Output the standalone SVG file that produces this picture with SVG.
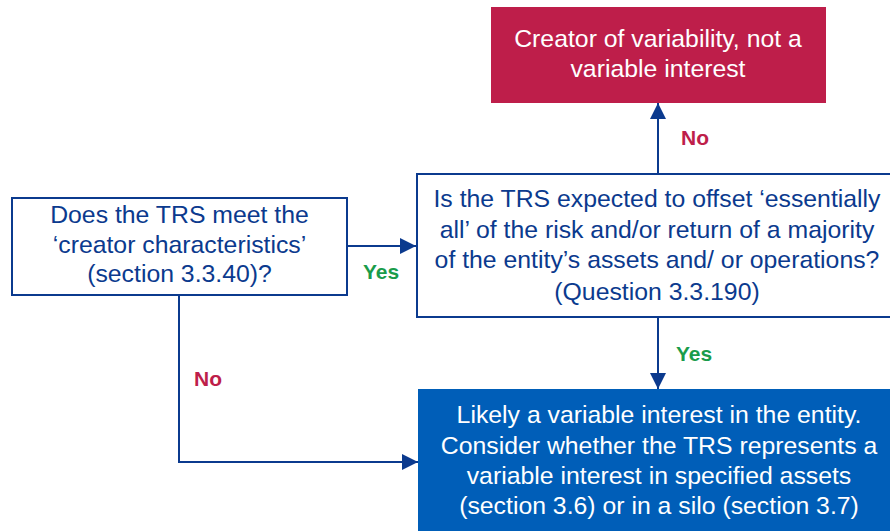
<svg xmlns="http://www.w3.org/2000/svg" width="890" height="531" viewBox="0 0 890 531">
<defs>
<style>
.t{font-family:"Liberation Sans",Arial,sans-serif;font-size:24.8px;text-anchor:middle}
.dk{fill:#0B3A8E}
.wh{fill:#FFFFFF}
.lbl{font-family:"Liberation Sans",Arial,sans-serif;font-size:21px;font-weight:bold}
.no{fill:#BE1E4A}
.yes{fill:#1A9C4B}
.c{fill:none;stroke:#0B3A8E;stroke-width:2}
</style>
<marker id="ah" viewBox="0 0 16 16" refX="16" refY="8" markerWidth="16" markerHeight="16" markerUnits="userSpaceOnUse" orient="auto">
<path d="M0,0 L16,8 L0,16 z" fill="#0B3A8E"/>
</marker>
</defs>
<rect width="890" height="531" fill="#FFFFFF"/>
<g id="connectors">
<path class="c" d="M347,246 H416" style="marker-end:url(#ah)"/>
<path class="c" d="M658,174 V103" style="marker-end:url(#ah)"/>
<path class="c" d="M658,317 V389" style="marker-end:url(#ah)"/>
<path class="c" d="M179,295 V462 H418" style="marker-end:url(#ah)"/>
<text class="lbl yes" x="363" y="279">Yes</text>
<text class="lbl no" x="681" y="145">No</text>
<text class="lbl yes" x="676" y="361">Yes</text>
<text class="lbl no" x="194" y="386">No</text>
</g>
<g id="node-creator">
<rect x="12" y="198" width="335" height="97" fill="#FFFFFF" stroke="#0B3A8E" stroke-width="2"/>
<text class="t dk" x="179.5" y="223">Does the TRS meet the</text>
<text class="t dk" x="179.5" y="253">‘creator characteristics’</text>
<text class="t dk" x="179.5" y="282">(section 3.3.40)?</text>
</g>
<g id="node-offset">
<rect x="417" y="174" width="480" height="143" fill="#FFFFFF" stroke="#0B3A8E" stroke-width="2"/>
<text class="t dk" x="657" y="207">Is the TRS expected to offset ‘essentially</text>
<text class="t dk" x="657" y="238">all’ of the risk and/or return of a majority</text>
<text class="t dk" x="657" y="268">of the entity’s assets and/ or operations?</text>
<text class="t dk" x="657" y="300">(Question 3.3.190)</text>
</g>
<g id="node-not-vi">
<rect x="491" y="7" width="335" height="96" fill="#BE1E4A"/>
<text class="t wh" x="658" y="47">Creator of variability, not a</text>
<text class="t wh" x="658" y="77">variable interest</text>
</g>
<g id="node-likely-vi">
<rect x="418" y="389" width="480" height="150" fill="#005EB8"/>
<text class="t wh" x="659" y="423">Likely a variable interest in the entity.</text>
<text class="t wh" x="659" y="454">Consider whether the TRS represents a</text>
<text class="t wh" x="659" y="484">variable interest in specified assets</text>
<text class="t wh" x="659" y="514">(section 3.6) or in a silo (section 3.7)</text>
</g>
</svg>
